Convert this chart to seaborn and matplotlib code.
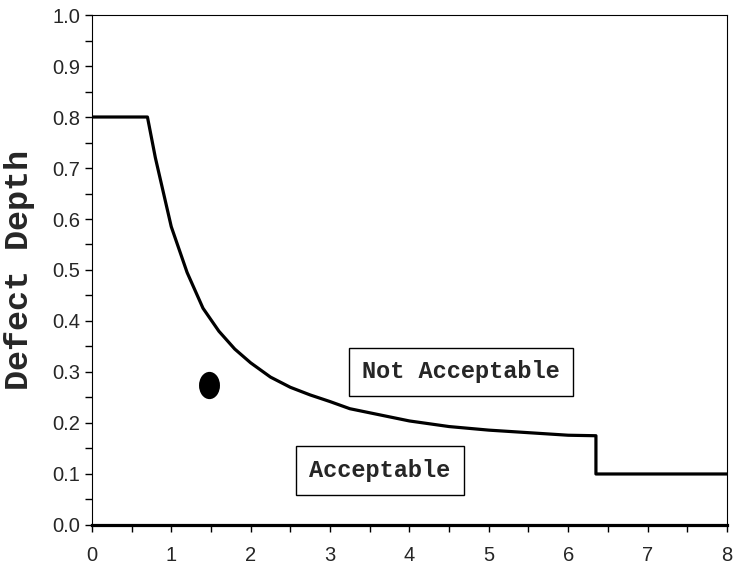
import numpy as np
import pandas as pd
import seaborn as sns
import matplotlib
matplotlib.use("Agg")
from matplotlib import pyplot as plt
from matplotlib.path import Path
from matplotlib.transforms import Affine2D
from matplotlib.ticker import MultipleLocator

# acceptance curve
length = [0.0, 0.7, 0.8, 1.0, 1.2, 1.4, 1.6, 1.8, 2.0, 2.25, 2.5, 2.75, 3.0,
          3.25, 3.5, 4.0, 4.5, 5.0, 5.5, 6.0, 6.35, 6.35, 8.0]
depth = [0.8, 0.8, 0.72, 0.585, 0.495, 0.425, 0.38, 0.345, 0.318, 0.29, 0.27,
         0.255, 0.242, 0.228, 0.22, 0.204, 0.193, 0.186, 0.181, 0.176, 0.175,
         0.1, 0.1]

# measured defect
defect_x = [1.47]
defect_y = [0.275]

region_labels = ["Not Acceptable", "Acceptable"]
region_x = [4.65, 3.63]
region_y = [0.30, 0.106]

curve = pd.DataFrame({"x": length, "y": depth})
point = pd.DataFrame({"x": defect_x, "y": defect_y})

sns.set_style("ticks")
plt.rcParams["font.family"] = ["Liberation Sans", "DejaVu Sans"]

fig = plt.figure(figsize=(7.35, 5.73), dpi=100)
ax = fig.add_axes([0.125, 0.0838, 0.864, 0.890])

sns.lineplot(data=curve, x="x", y="y", sort=False, estimator=None,
             color="black", linewidth=2.3, ax=ax)

# oval marker
oval = Path.unit_circle().transformed(Affine2D().scale(0.75, 1.0))
sns.scatterplot(data=point, x="x", y="y", marker=oval, s=330,
                color="black", edgecolor="black", ax=ax, zorder=3)

for lab, tx, ty in zip(region_labels, region_x, region_y):
    ax.text(tx, ty, lab, ha="center", va="center", fontsize=17,
            family="Liberation Mono", weight="bold",
            bbox=dict(boxstyle="square,pad=0.55", fc="white", ec="black", lw=1))

ax.set_xlim(0, 8)
ax.set_ylim(0, 1.0)
ax.xaxis.set_major_locator(MultipleLocator(1))
ax.xaxis.set_minor_locator(MultipleLocator(0.5))
ax.yaxis.set_major_locator(MultipleLocator(0.1))
ax.yaxis.set_minor_locator(MultipleLocator(0.05))
ax.yaxis.set_major_formatter(matplotlib.ticker.FormatStrFormatter("%.1f"))
ax.tick_params(which="both", direction="out", length=5, width=1, labelsize=14.5,
               color="black")
ax.tick_params(axis="x", pad=10)

for side in ["top", "right", "left"]:
    ax.spines[side].set_linewidth(0.8)
    ax.spines[side].set_color("black")
ax.spines["bottom"].set_linewidth(2.3)
ax.spines["bottom"].set_color("black")

ax.set_xlabel("")
ax.set_ylabel("Defect Depth", fontsize=24, family="Liberation Mono",
              weight="bold", labelpad=12)

fig.savefig("out.png", dpi=100)
